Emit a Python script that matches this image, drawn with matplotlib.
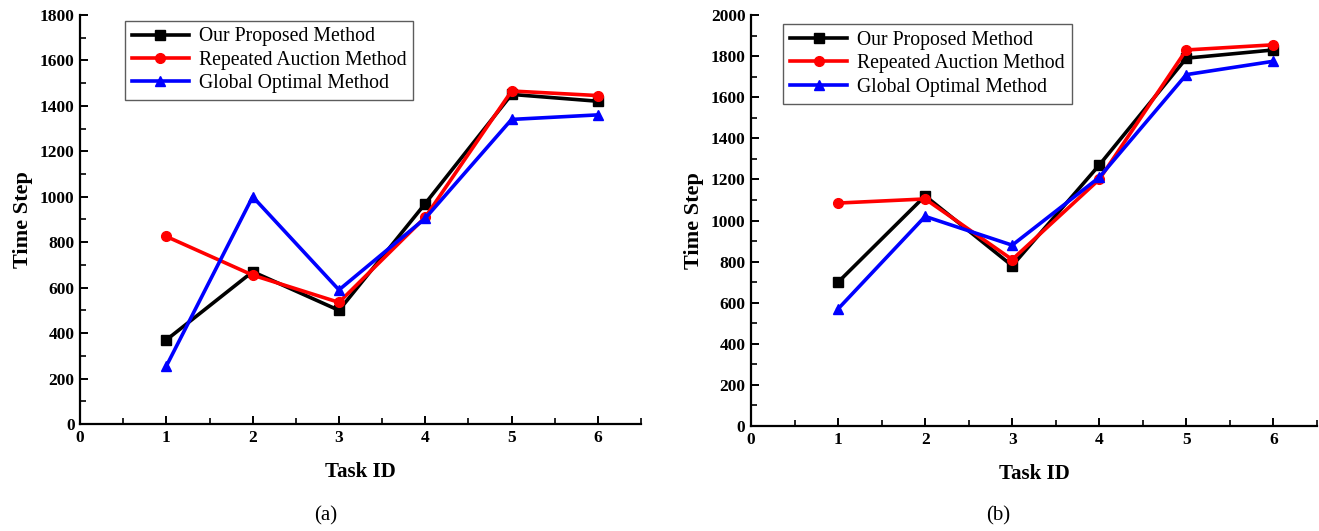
import matplotlib
matplotlib.use("Agg")
import matplotlib.pyplot as plt
from matplotlib.ticker import MultipleLocator

plt.rcParams['font.family'] = ['Liberation Serif', 'DejaVu Serif']

task_ids = [1, 2, 3, 4, 5, 6]
series_names = ["Our Proposed Method", "Repeated Auction Method", "Global Optimal Method"]

# Panel (a)
proposed_a = [370, 670, 500, 970, 1450, 1420]
auction_a = [825, 655, 535, 910, 1465, 1445]
optimal_a = [255, 1000, 590, 905, 1340, 1360]

# Panel (b)
proposed_b = [700, 1120, 780, 1270, 1790, 1830]
auction_b = [1085, 1105, 810, 1200, 1830, 1855]
optimal_b = [570, 1020, 880, 1210, 1710, 1775]

colors = ["black", "red", "blue"]
markers = ["s", "o", "^"]

fig = plt.figure(figsize=(13.19, 5.31), dpi=100)
ax_a = fig.add_axes([0.0607, 0.2015, 0.4253, 0.7705])
ax_b = fig.add_axes([0.5694, 0.1977, 0.4290, 0.7740])


def draw_panel(ax, series, ymax, ymajor, legend_anchor, caption, caption_x):
    for vals, c, m, name in zip(series, colors, markers, series_names):
        ax.plot(task_ids, vals, color=c, marker=m, markersize=7, linewidth=2.6,
                label=name)
    ax.set_xlim(0, 6.5)
    ax.set_ylim(0, ymax)
    ax.xaxis.set_major_locator(MultipleLocator(1))
    ax.xaxis.set_minor_locator(MultipleLocator(0.5))
    ax.yaxis.set_major_locator(MultipleLocator(ymajor))
    ax.yaxis.set_minor_locator(MultipleLocator(ymajor / 2))
    ax.spines['top'].set_visible(False)
    ax.spines['right'].set_visible(False)
    for s in ('left', 'bottom'):
        ax.spines[s].set_linewidth(1.6)
    ax.tick_params(which='major', direction='in', length=6, width=1.4,
                   labelsize=12.5, pad=4)
    ax.tick_params(which='minor', direction='in', length=4, width=1.2)
    for lab in ax.get_xticklabels() + ax.get_yticklabels():
        lab.set_fontweight('bold')
    ax.set_xlabel("Task ID", fontsize=15, fontweight='bold', labelpad=12)
    ax.set_ylabel("Time Step", fontsize=16, fontweight='bold', labelpad=5)
    leg = ax.legend(loc='upper left', bbox_to_anchor=legend_anchor, fontsize=14.2,
                    frameon=True, fancybox=False, edgecolor='#333333',
                    handlelength=2.9, handletextpad=0.5, borderpad=0.35,
                    labelspacing=0.22, borderaxespad=0)
    leg.get_frame().set_linewidth(1.0)
    fig.text(caption_x, 0.028, caption, ha='center', va='center', fontsize=15)


draw_panel(ax_a, [proposed_a, auction_a, optimal_a], 1800, 200,
           (0.08, 0.986), "(a)", 0.247)
draw_panel(ax_b, [proposed_b, auction_b, optimal_b], 2000, 200,
           (0.057, 0.978), "(b)", 0.757)

fig.savefig("out.png", dpi=100)
